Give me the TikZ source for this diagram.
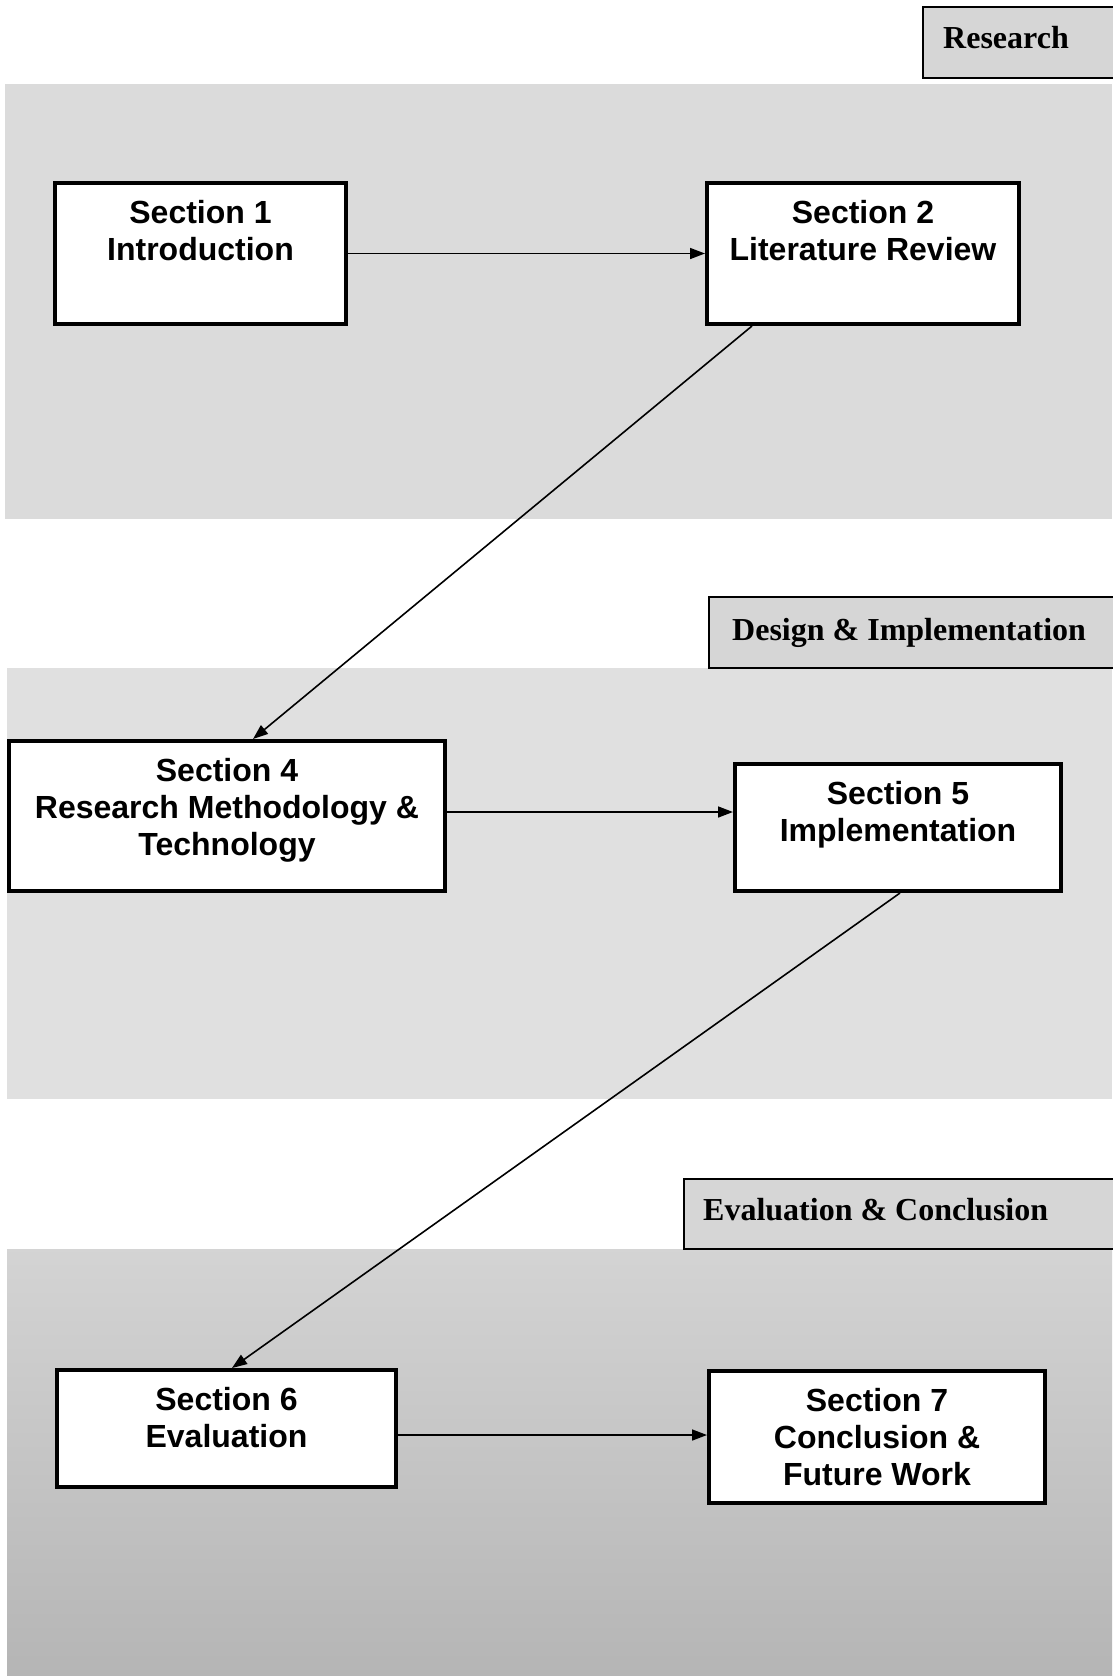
\documentclass[tikz,border=0pt]{standalone}
\usepackage{fontspec}
\newfontfamily\secfont{Liberation Sans}
\newfontfamily\labfont{Liberation Serif}
\usetikzlibrary{arrows.meta}
\definecolor{bandA}{gray}{0.86}
\definecolor{bandB}{gray}{0.88}
\definecolor{bandCtop}{gray}{0.83}
\definecolor{bandCbot}{gray}{0.71}
\definecolor{labfill}{gray}{0.84}
\newcommand\sbx[3]{\parbox[c][#2pt][t]{#1pt}{\centering\rule{0pt}{40pt}#3}}
\tikzset{
  secbox/.style={draw, line width=4pt, fill=white, inner sep=0pt, anchor=north west,
    font=\fontsize{32}{37}\selectfont\secfont\bfseries},
  labtext/.style={inner sep=0pt, anchor=base west,
    font=\fontsize{32}{38}\selectfont\labfont\bfseries},
  labbox/.style={draw, line width=1.8pt, fill=labfill},
  arr/.style={line width=1.6pt, -{Triangle[length=15pt,width=11pt]}}
}
\begin{document}
\begin{tikzpicture}[x=1pt,y=-1pt]
\useasboundingbox (0,0) rectangle (1112,1676);
\fill[white] (0,0) rectangle (1112,1676);
% bands
\fill[bandA] (5,84) rectangle (1112,519);
\fill[bandB] (7,668) rectangle (1112,1099);
\shade[top color=bandCtop, bottom color=bandCbot] (7,1249) rectangle (1112,1676);
% label boxes
\draw[labbox] (923,7) rectangle (1125,78);
\node[labtext] (lres) at (943,48) {Research};
\draw[labbox] (709,597) rectangle (1125,668);
\node[labtext] (ldes) at (732,640) {Design \& Implementation};
\draw[labbox] (684,1179) rectangle (1125,1249);
\node[labtext] (leva) at (703,1220) {Evaluation \& Conclusion};
% section boxes
\node[secbox] (s1) at (53,181) {\sbx{291}{141}{Section 1\\Introduction}};
\node[secbox] (s2) at (705,181) {\sbx{312}{141}{Section 2\\Literature Review}};
\node[secbox] (s4) at (7,739) {\sbx{436}{150}{Section 4\\Research Methodology \&\\Technology}};
\node[secbox] (s5) at (733,762) {\sbx{326}{127}{Section 5\\Implementation}};
\node[secbox] (s6) at (55,1368) {\sbx{339}{117}{Section 6\\Evaluation}};
\node[secbox] (s7) at (707,1369) {\sbx{336}{132}{Section 7\\Conclusion \&\\Future Work}};
% helper coordinates
\coordinate (xa) at (752,0);
\coordinate (xb) at (253,0);
\coordinate (xc) at (900,0);
\coordinate (xd) at (232,0);
\coordinate (ya) at (0,812);
\coordinate (yb) at (0,1435);
% connectors
\draw[arr] (s1.east) -- (s2.west);
\draw[arr] (s2.south -| xa) -- (s4.north -| xb);
\draw[arr] (s4.east |- ya) -- (s5.west |- ya);
\draw[arr] (s5.south -| xc) -- (s6.north -| xd);
\draw[arr] (s6.east |- yb) -- (s7.west |- yb);
\end{tikzpicture}
\end{document}
